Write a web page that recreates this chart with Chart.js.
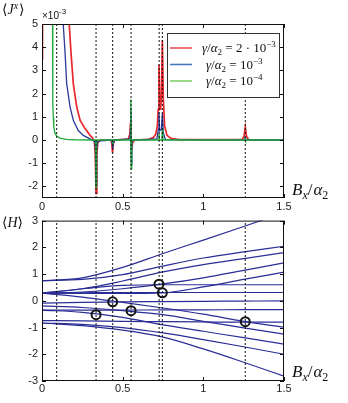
<!DOCTYPE html>
<html>
<head>
<meta charset="utf-8">
<script src="https://cdn.jsdelivr.net/npm/chart.js@4.4.1/dist/chart.umd.min.js"></script>
<style>
  body { margin: 0; background: #fff; }
  #wrap { position: relative; width: 348px; height: 403px; }
  canvas { position: absolute; left: 0; }
  #jx { top: 0; }
  #en { top: 210px; }
</style>
</head>
<body>
<div id="wrap">
  <canvas id="jx" width="348" height="212"></canvas>
  <canvas id="en" width="348" height="193"></canvas>
</div>
<script>
// field axis (B_x / alpha_2)
const fieldTicks = [0, 0.5, 1, 1.5];
const fieldTickLabels = ['0', '0.5', '1', '1.5'];
const jxTicks = [-2, -1, 0, 1, 2, 3, 4, 5];
const energyTicks = [-3, -2, -1, 0, 1, 2, 3];

// resonance positions (dotted lines)
const resonances = [0.091, 0.335, 0.438, 0.552, 0.726, 0.746, 1.26];

// <J^x> in units of 1e-3
const jxRed = [
  [0.002, 5.6], [0.003, 3.45], [0.01, null],
  [0.165, 5.6], [0.169, 4.96], [0.18, 3.75], [0.194, 2.43], [0.215, 1.43], [0.236, 0.85],
  [0.267, 0.49], [0.298, 0.2], [0.315, 0.08], [0.325, -0.1], [0.33, -0.6], [0.335, -2.3],
  [0.34, -0.6], [0.346, -0.12], [0.36, 0], [0.425, 0], [0.432, -0.12], [0.437, -0.55],
  [0.443, -0.12], [0.45, 0], [0.535, 0.04], [0.544, 0.25], [0.549, 0.75], [0.553, -0.1],
  [0.556, -0.45], [0.562, -0.1], [0.575, 0], [0.66, 0.03], [0.69, 0.1], [0.705, 0.25],
  [0.715, 0.6], [0.72, 1.3], [0.725, 3.25], [0.73, 1.6], [0.735, 1.3], [0.74, 1.9],
  [0.746, 4.3], [0.752, 1.8], [0.76, 0.6], [0.775, 0.2], [0.8, 0.07], [0.85, 0.02],
  [1.24, 0.02], [1.252, 0.15], [1.26, 0.55], [1.268, 0.15], [1.28, 0.02], [1.5, 0]
];
const jxBlue = [
  [0.128, 5.6], [0.132, 4.96], [0.143, 3.75], [0.153, 2.43], [0.174, 1.43], [0.194, 0.85],
  [0.225, 0.41], [0.256, 0.2], [0.298, 0.05], [0.326, -0.05], [0.331, -0.4], [0.335, -1.95],
  [0.339, -0.4], [0.345, -0.05], [0.43, 0], [0.435, -0.1], [0.438, -0.35], [0.441, -0.1],
  [0.446, 0], [0.545, 0.05], [0.549, 0.5], [0.551, 1.3], [0.554, -1.05], [0.557, -0.2],
  [0.562, 0], [0.712, 0.05], [0.721, 0.45], [0.725, 1.2], [0.729, 0.4], [0.74, 0.45],
  [0.746, 1.15], [0.752, 0.3], [0.765, 0.02], [1.255, 0], [1.26, 0.12], [1.265, 0], [1.5, 0]
];
const jxGreen = [
  [0.065, 5.6], [0.066, 4.5], [0.067, 2.6], [0.068, 1.6], [0.07, 0.95], [0.073, 0.6],
  [0.08, 0.3], [0.09, 0.18], [0.11, 0.08], [0.15, 0.03], [0.2, 0.01], [0.331, 0],
  [0.333, -0.3], [0.335, -2.05], [0.337, -0.3], [0.339, 0], [0.436, 0], [0.438, -0.22],
  [0.44, 0], [0.548, 0], [0.551, 1.75], [0.553, -1.25], [0.556, 0], [0.722, 0],
  [0.725, 0.3], [0.728, 0], [0.743, 0], [0.746, 0.45], [0.749, 0], [1.258, 0],
  [1.26, 0.05], [1.262, 0], [1.5, 0]
];

// energy levels <H> sampled on fieldGrid
const fieldGrid = [0, 0.25, 0.5, 0.75, 1.0, 1.25, 1.5];
const levels = [
  [0.75, 0.86, 1.25, 1.77, 2.27, 2.78, 3.3],
  [0.75, 0.8, 0.98, 1.3, 1.6, 1.83, 2.04],
  [0.29, 0.45, 0.74, 1.08, 1.35, 1.58, 1.8],
  [0.29, 0.33, 0.45, 0.63, 0.86, 1.14, 1.42],
  [0.29, 0.28, 0.28, 0.3, 0.52, 0.8, 1.07],
  [0.29, 0.45, 0.58, 0.6, 0.6, 0.6, 0.6],
  [0.29, 0.3, 0.31, 0.31, 0.31, 0.31, 0.31],
  [0.29, 0.14, -0.06, -0.27, -0.5, -0.77, -0.99],
  [-0.09, -0.06, -0.04, -0.03, -0.02, -0.01, 0.0],
  [-0.19, -0.25, -0.37, -0.52, -0.77, -1.01, -1.25],
  [-0.35, -0.35, -0.35, -0.34, -0.34, -0.33, -0.33],
  [-0.35, -0.43, -0.62, -0.9, -1.14, -1.38, -1.62],
  [-0.74, -0.75, -0.77, -0.78, -0.79, -0.8, -0.8],
  [-0.83, -0.88, -1.0, -1.2, -1.45, -1.72, -2.0],
  [-0.83, -0.93, -1.1, -1.36, -1.8, -2.3, -2.82]
];
// level crossings marked with circles
const crossX = [0.335, 0.438, 0.552, 0.725, 0.746, 1.26];
const crossY = [-0.52, -0.04, -0.37, 0.62, 0.3, -0.78];

const legendNames = ['2 \u00b7 10', '10', '10'];
const legendExp = ['\u22123', '\u22123', '\u22124'];
const curveColors = ['#e8282c', '#2b3a9a', '#1faa3a'];
const legendColors = ['#e65050', '#4a78c0', '#80d070'];

const serif = '"Liberation Serif", "DejaVu Serif", serif';
const sans = '"Liberation Sans", Arial, sans-serif';

function drawPieces(ctx, pieces, x, y) {
  for (const p of pieces) {
    ctx.font = p.f;
    ctx.fillText(p.t, x, y + (p.dy || 0));
    x += ctx.measureText(p.t).width + (p.gap || 0);
  }
}

function fieldLabel(size) {
  const s = size, sub = Math.round(size * 0.7);
  return [
    { t: 'B', f: `italic ${s}px ${serif}` },
    { t: 'x', f: `italic ${sub}px ${serif}`, dy: 4 },
    { t: '/', f: `${s}px ${serif}`, gap: 1 },
    { t: '\u03b1', f: `italic ${s}px ${serif}` },
    { t: '2', f: `${sub}px ${serif}`, dy: 4 }
  ];
}

const frame = {
  id: 'frame',
  afterDatasetsDraw(chart) {
    const { ctx, chartArea: a, scales } = chart;
    ctx.save();
    ctx.strokeStyle = '#111';
    ctx.lineWidth = 1;
    ctx.beginPath();
    for (const t of scales.x.ticks) {
      const px = Math.round(scales.x.getPixelForValue(t.value)) + 0.5;
      ctx.moveTo(px, a.bottom); ctx.lineTo(px, a.bottom - 4);
      ctx.moveTo(px, a.top); ctx.lineTo(px, a.top + 4);
    }
    for (const t of scales.y.ticks) {
      const py = Math.round(scales.y.getPixelForValue(t.value)) + 0.5;
      ctx.moveTo(a.left, py); ctx.lineTo(a.left + 4, py);
      ctx.moveTo(a.right, py); ctx.lineTo(a.right - 4, py);
    }
    ctx.stroke();
    ctx.strokeRect(a.left + 0.5, a.top + 0.5, a.right - a.left - 1, a.bottom - a.top - 1);
    ctx.restore();
  }
};

function setTicks(values) {
  return scale => { scale.ticks = values.map(v => ({ value: v })); };
}

function fieldScale(height, pad) {
  return {
    type: 'linear', min: 0, max: 1.5,
    grid: { display: false, drawTicks: false }, border: { display: false },
    afterBuildTicks: setTicks(fieldTicks),
    afterFit: s => { s.height = height; },
    ticks: {
      padding: pad, color: '#222', font: { family: sans, size: 11 },
      maxRotation: 0, autoSkip: false,
      callback: v => fieldTickLabels[fieldTicks.indexOf(v)]
    }
  };
}

function valueScale(min, max, values) {
  return {
    type: 'linear', min: min, max: max,
    grid: { display: false, drawTicks: false }, border: { display: false },
    afterBuildTicks: setTicks(values),
    afterFit: s => { s.width = 42; },
    ticks: {
      padding: 4, color: '#222', font: { family: sans, size: 11 },
      autoSkip: false, callback: v => String(v)
    }
  };
}

function dotted(lo, hi) {
  return resonances.map(x => ({
    data: [{ x: x, y: lo }, { x: x, y: hi }],
    borderColor: '#111', borderWidth: 1, borderDash: [2, 2],
    pointRadius: 0
  }));
}

const toPts = arr => arr.map(p => ({ x: p[0], y: p[1] }));

// ---- top panel: <J^x>
const jxSeries = [jxGreen, jxBlue, jxRed];
const jxColors = [curveColors[2], curveColors[1], curveColors[0]];
const jxWidths = [1.3, 1.3, 1.7];

const topLabels = {
  id: 'topLabels',
  afterDraw(chart) {
    const { ctx } = chart;
    ctx.save();
    ctx.fillStyle = '#111';
    ctx.textBaseline = 'alphabetic';
    drawPieces(ctx, [
      { t: '\u27e8', f: `14px ${serif}` },
      { t: 'J', f: `italic 14px ${serif}` },
      { t: 'x', f: `italic 10px ${serif}`, dy: -5, gap: 1 },
      { t: '\u27e9', f: `14px ${serif}` }
    ], 2, 14);
    drawPieces(ctx, [
      { t: '\u00d710', f: `10px ${sans}` },
      { t: '-3', f: `8px ${sans}`, dy: -5 }
    ], 42, 19);
    drawPieces(ctx, fieldLabel(17), 292, 195);

    // legend box
    const bx = 167.5, by = 33.5, bw = 112, bh = 64;
    ctx.fillStyle = '#fff';
    ctx.fillRect(bx, by, bw, bh);
    ctx.strokeStyle = '#333';
    ctx.lineWidth = 1;
    ctx.strokeRect(bx, by, bw, bh);
    const rows = [48, 64.5, 81];
    rows.forEach((ry, i) => {
      ctx.strokeStyle = legendColors[i];
      ctx.lineWidth = 1.6;
      ctx.beginPath();
      ctx.moveTo(170, ry); ctx.lineTo(192, ry);
      ctx.stroke();
      ctx.fillStyle = '#111';
      drawPieces(ctx, [
        { t: '\u03b3', f: `italic 13px ${serif}` },
        { t: '/', f: `13px ${serif}` },
        { t: '\u03b1', f: `italic 13px ${serif}` },
        { t: '2', f: `9px ${serif}`, dy: 3 },
        { t: ' = ' + legendNames[i], f: `13px ${serif}` },
        { t: legendExp[i], f: `9px ${serif}`, dy: -5 }
      ], i === 0 ? 202 : 206, ry + 4);
    });
    ctx.restore();
  }
};

new Chart(document.getElementById('jx'), {
  type: 'line',
  data: {
    datasets: [
      ...dotted(-2.5, 5),
      ...jxSeries.map((s, i) => ({
        data: toPts(s),
        borderColor: jxColors[i], borderWidth: jxWidths[i],
        pointRadius: 0, tension: 0, spanGaps: false
      }))
    ]
  },
  options: {
    responsive: false, animation: false,
    layout: { padding: { top: 24, right: 64, left: 0, bottom: 0 } },
    plugins: { legend: { display: false }, tooltip: { enabled: false } },
    scales: {
      x: fieldScale(14, 2),
      y: valueScale(-2.5, 5, jxTicks)
    }
  },
  plugins: [frame, topLabels]
});

// ---- bottom panel: <H>
const bottomLabels = {
  id: 'bottomLabels',
  afterDraw(chart) {
    const { ctx } = chart;
    ctx.save();
    ctx.fillStyle = '#111';
    drawPieces(ctx, [
      { t: '\u27e8', f: `14px ${serif}` },
      { t: 'H', f: `italic 14px ${serif}` },
      { t: '\u27e9', f: `14px ${serif}` }
    ], 2, 17);
    drawPieces(ctx, fieldLabel(17), 292, 167);
    ctx.restore();
  }
};

new Chart(document.getElementById('en'), {
  type: 'line',
  data: {
    datasets: [
      {
        data: crossX.map((x, i) => ({ x: x, y: crossY[i] })),
        showLine: false, pointRadius: 4.5, pointBorderWidth: 2,
        pointBorderColor: '#151515', pointBackgroundColor: 'rgba(0,0,0,0)'
      },
      ...dotted(-3, 3),
      ...levels.map(lv => ({
        data: fieldGrid.map((x, i) => ({ x: x, y: lv[i] })),
        borderColor: '#2a2d96', borderWidth: 1.2,
        pointRadius: 0, cubicInterpolationMode: 'monotone'
      }))
    ]
  },
  options: {
    responsive: false, animation: false,
    layout: { padding: { top: 9, right: 64, left: 0, bottom: 0 } },
    plugins: { legend: { display: false }, tooltip: { enabled: false } },
    scales: {
      x: fieldScale(22, 1),
      y: valueScale(-3, 3, energyTicks)
    }
  },
  plugins: [frame, bottomLabels]
});
</script>
</body>
</html>
